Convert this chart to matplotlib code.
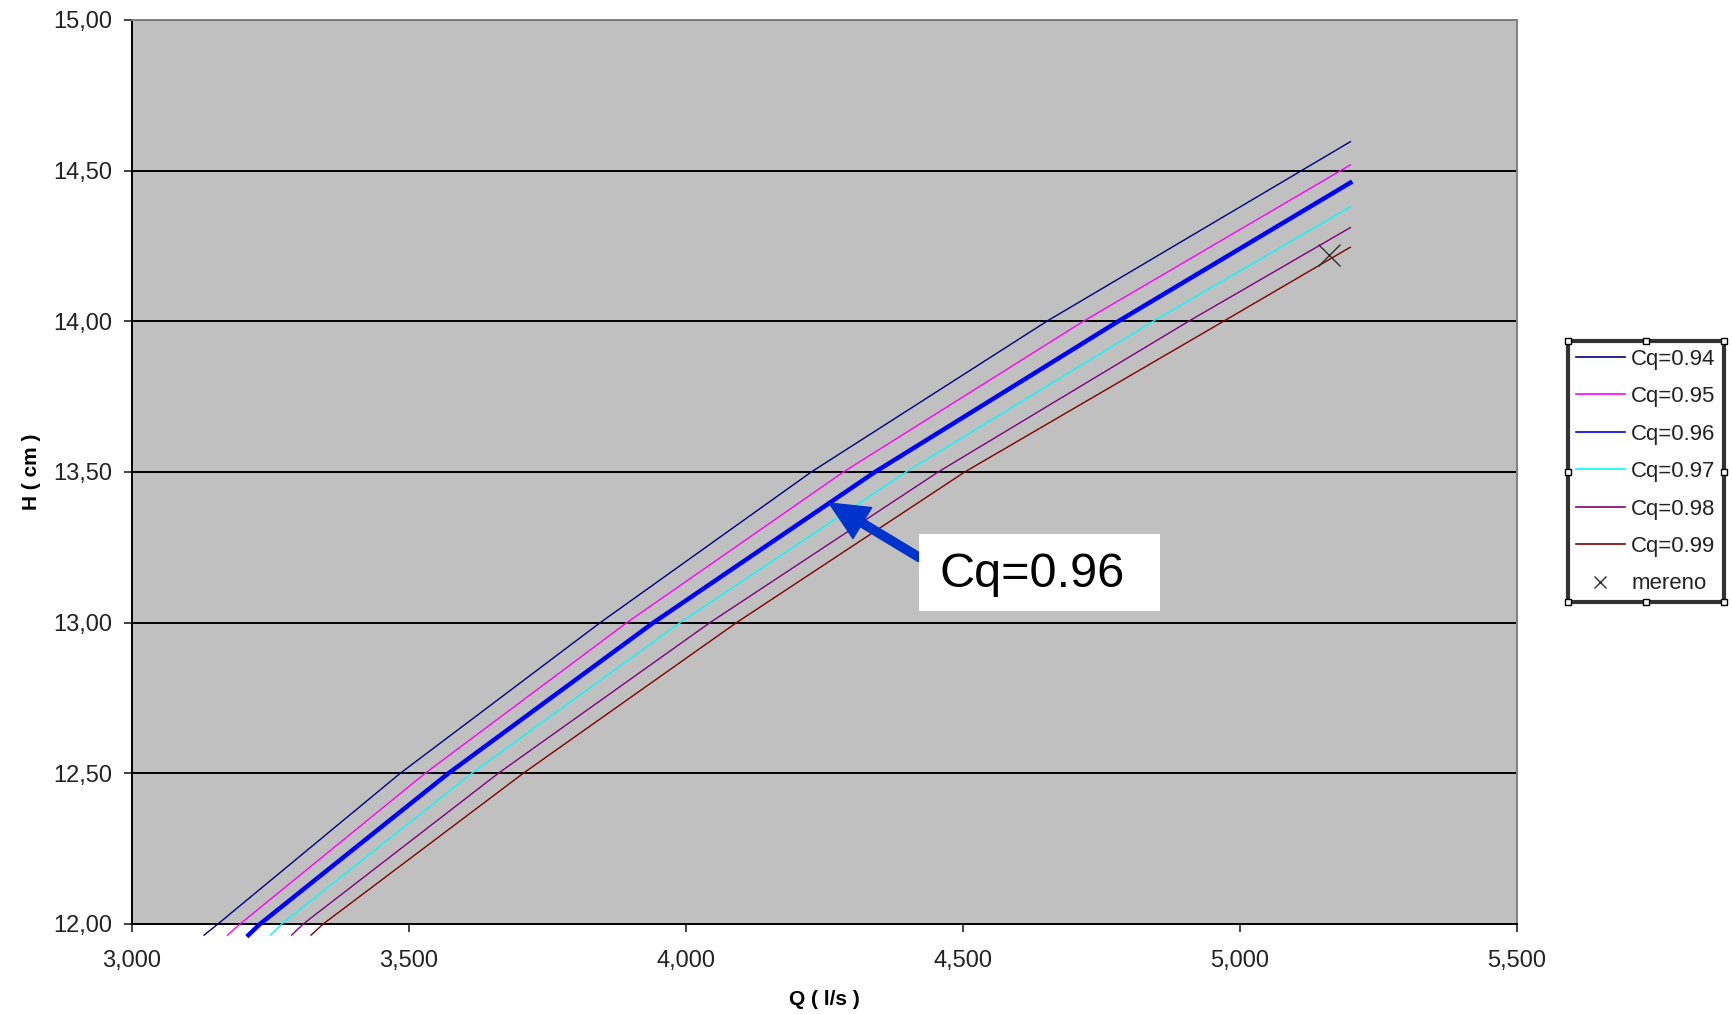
import matplotlib
matplotlib.use('Agg')
import matplotlib.pyplot as plt
from matplotlib.patches import Rectangle
from matplotlib.lines import Line2D

plt.rcParams['font.family'] = ['Liberation Sans', 'DejaVu Sans']

# values: Q (l/s) against H (cm) for each Cq
q_094 = [3131, 3156, 3485, 3846, 4227, 4652, 5200]
h_094 = [11.963, 12.0, 12.5, 13.0, 13.5, 14.0, 14.596]
q_095 = [3173, 3196, 3530, 3894, 4285, 4718, 5200]
h_095 = [11.963, 12.0, 12.5, 13.0, 13.5, 14.0, 14.519]
q_096 = [3211, 3232, 3572, 3942, 4342, 4781, 5200]
h_096 = [11.963, 12.0, 12.5, 13.0, 13.5, 14.0, 14.460]
q_097 = [3251, 3271, 3614, 3990, 4398, 4844, 5200]
h_097 = [11.963, 12.0, 12.5, 13.0, 13.5, 14.0, 14.380]
q_098 = [3289, 3310, 3662, 4044, 4456, 4908, 5200]
h_098 = [11.963, 12.0, 12.5, 13.0, 13.5, 14.0, 14.311]
q_099 = [3324, 3346, 3707, 4092, 4504, 4971, 5200]
h_099 = [11.963, 12.0, 12.5, 13.0, 13.5, 14.0, 14.246]

q_mereno = [5161]
h_mereno = [14.22]

x_ticks = [3000, 3500, 4000, 4500, 5000, 5500]
x_labels = ['3,000', '3,500', '4,000', '4,500', '5,000', '5,500']
y_ticks = [12.0, 12.5, 13.0, 13.5, 14.0, 14.5, 15.0]
y_labels = ['12,00', '12,50', '13,00', '13,50', '14,00', '14,50', '15,00']

fig = plt.figure(figsize=(17.33, 10.14), dpi=100)
ax = fig.add_axes([0.0759, 0.0888, 0.7992, 0.8915])
ax.set_facecolor('#c0c0c0')

series = [
    (q_094, h_094, '#000080', 1.0, 'Cq=0.94'),
    (q_095, h_095, '#ff00ff', 1.0, 'Cq=0.95'),
    (q_096, h_096, '#0000ff', 3.2, 'Cq=0.96'),
    (q_097, h_097, '#00ffff', 1.0, 'Cq=0.97'),
    (q_098, h_098, '#800080', 1.0, 'Cq=0.98'),
    (q_099, h_099, '#800000', 1.0, 'Cq=0.99'),
]
handles = []
for q, h, col, lw, lab in series:
    ax.plot(q, h, color=col, lw=lw, clip_on=False, zorder=3)
    handles.append(Line2D([], [], color=col, lw=1.2, label=lab))

ax.plot(q_mereno, h_mereno, 'x', color='#303030', markersize=16, mew=1.0, zorder=4)
handles.append(Line2D([], [], ls='none', marker='x', color='#303030',
                      markersize=9, mew=1.0, label='mereno'))

ax.set_xlim(3000, 5500)
ax.set_ylim(12, 15)
ax.set_xticks(x_ticks)
ax.set_xticklabels(x_labels)
ax.set_yticks(y_ticks)
ax.set_yticklabels(y_labels)
ax.tick_params(direction='out', length=6, width=1.2, labelsize=17, colors='#222222')
ax.tick_params(axis='x', pad=13)
ax.tick_params(axis='y', pad=8)
ax.yaxis.grid(True, color='black', lw=1.4)
ax.set_axisbelow(True)
ax.spines['left'].set_color('black')
ax.spines['bottom'].set_color('black')
ax.spines['top'].set_color('#808080')
ax.spines['right'].set_color('#808080')
for s in ax.spines.values():
    s.set_linewidth(1.4)

ax.set_xlabel('Q ( l/s )', fontsize=15, fontweight='bold', labelpad=13)
ax.set_ylabel('H ( cm )', fontsize=15, fontweight='bold', labelpad=9)

# callout for the Cq=0.96 curve
fig.add_artist(Rectangle((0.5303, 0.3974), 0.139, 0.0759,
                         transform=fig.transFigure, facecolor='white',
                         edgecolor='none', zorder=5))
fig.text(0.5424, 0.433, 'Cq=0.96', fontsize=35, ha='left', va='center', zorder=6)
ax.annotate('', xy=(4259, 13.397), xycoords='data',
            xytext=(0.531, 0.4497), textcoords='figure fraction',
            arrowprops=dict(arrowstyle='simple,head_length=1.4,head_width=1.3,tail_width=0.3',
                            color='#0033cc', shrinkA=0, shrinkB=0, mutation_scale=20),
            zorder=6)

leg = fig.legend(handles=handles, loc='upper left',
                 bbox_to_anchor=(0.9048, 0.6637), borderaxespad=0,
                 fontsize=16, frameon=True, fancybox=False,
                 handlelength=2.2, handletextpad=0.3, borderpad=0.35,
                 labelspacing=0.74)
frame = leg.get_frame()
frame.set_edgecolor('black')
frame.set_linewidth(3)
for t in leg.get_texts():
    t.set_color('#222222')

# selection handles on the legend box
fig.canvas.draw()
bb = leg.get_frame().get_window_extent().transformed(fig.transFigure.inverted())
xs = [bb.x0, (bb.x0 + bb.x1) / 2, bb.x1]
ys = [bb.y0, (bb.y0 + bb.y1) / 2, bb.y1]
for xx in xs:
    for yy in ys:
        if xx == xs[1] and yy == ys[1]:
            continue
        fig.add_artist(Line2D([xx], [yy], marker='s', markersize=5,
                              markerfacecolor='white', markeredgecolor='black',
                              mew=1.0, transform=fig.transFigure, zorder=10))

fig.savefig('out.png', dpi=100)
